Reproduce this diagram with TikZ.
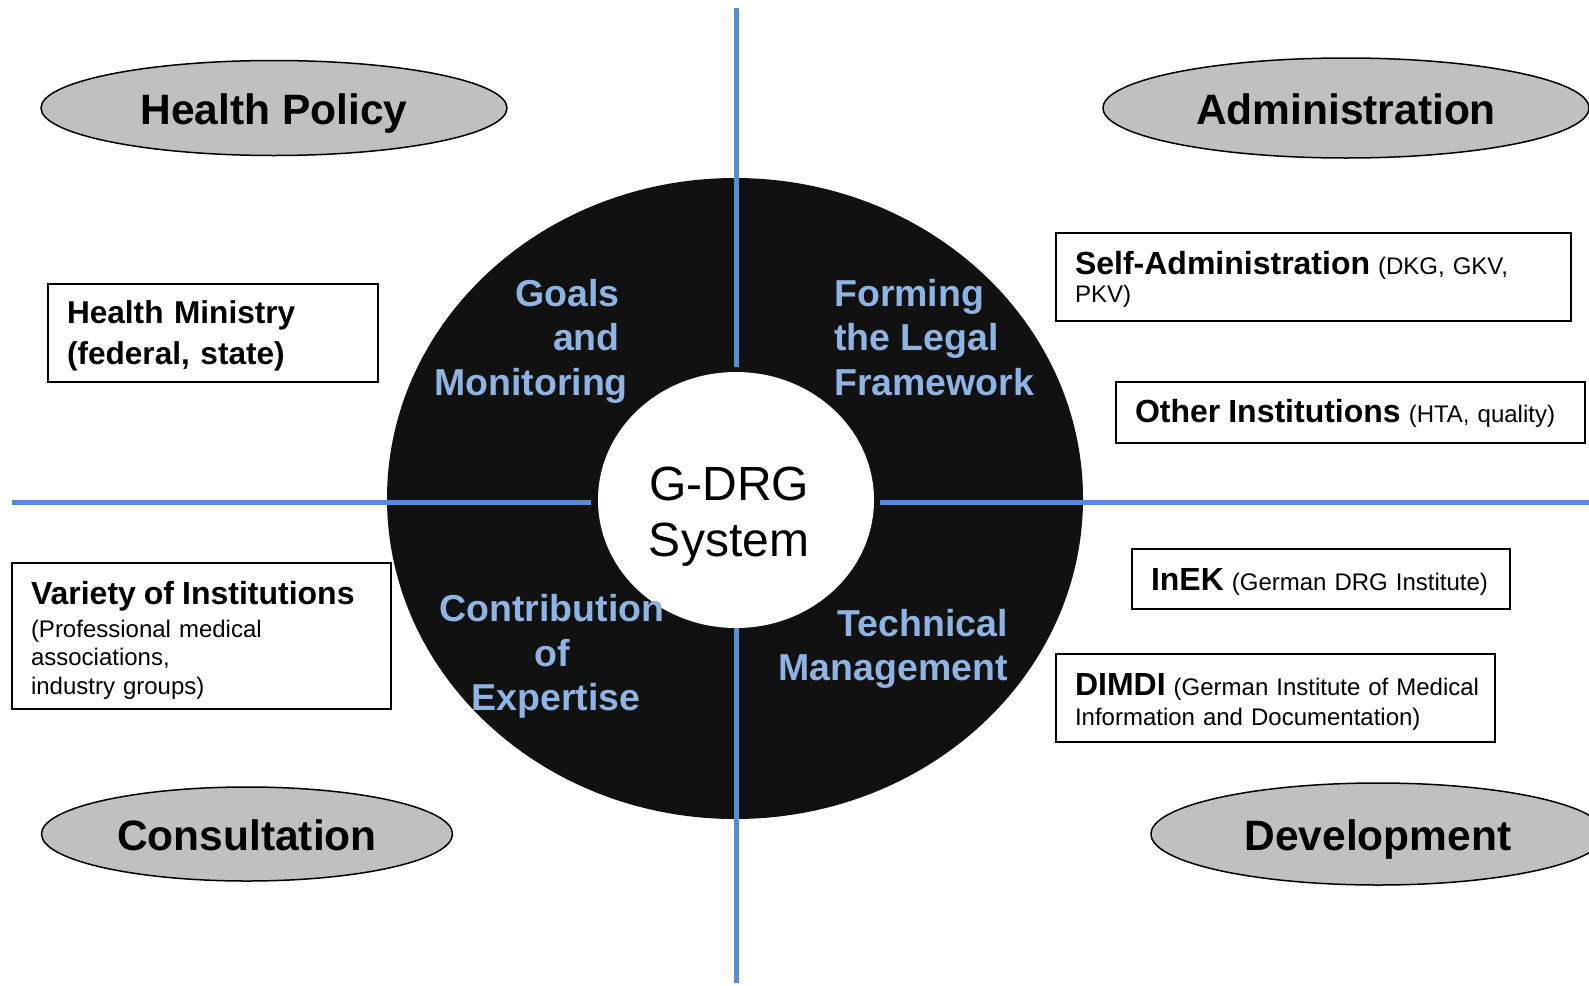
\documentclass[tikz,border=0pt]{standalone}
\usepackage{fontspec}
\setmainfont{Liberation Sans}
\usepackage{tikz}
\usetikzlibrary{shapes.geometric}
\definecolor{axisblue}{RGB}{85,142,213}
\definecolor{quadblue}{RGB}{141,180,226}
\definecolor{fieldgray}{RGB}{192,192,192}
\definecolor{ringblack}{RGB}{17,17,17}

\tikzset{
    field/.style={ellipse,draw,line width=1.5pt,fill=fieldgray,inner sep=0pt,
        text height=33pt,text depth=0pt,font=\fontsize{42.5}{48}\selectfont\bfseries},
    actor/.style={draw,line width=2pt,fill=white,anchor=north west,align=left,
        inner xsep=19pt,inner ysep=0pt,font=\fontsize{24}{28.5}\selectfont},
    sector/.style={inner sep=0pt,text=quadblue,font=\fontsize{37.5}{44.5}\selectfont\bfseries},
    axis/.style={axisblue,line width=5pt},
}
\newcommand{\bigb}[1]{{\fontsize{32}{28}\selectfont\bfseries #1}}
\newcommand{\topstrut}[1]{\rule{0pt}{#1}}

\begin{document}
\begin{tikzpicture}[x=1pt,y=-1pt]
    \clip (0,0) rectangle (1589,985);
    % ring with the system in its middle
    \node[ellipse,fill=ringblack,minimum width=696,minimum height=641,inner sep=0pt] (ring) at (735,498.5) {};
    \node[ellipse,fill=white,minimum width=276,minimum height=256,inner sep=0pt] (hub) at (736,500) {};
    \draw[axis] (736.5,8) -- (736.5,367);
    \draw[axis] (736.5,628) -- (736.5,983);
    \draw[axis] (12,502.5) -- (591,502.5);
    \draw[axis] (880,502.5) -- (1589,502.5);
    \node[anchor=north,align=center,inner sep=0pt,font=\fontsize{48}{56}\selectfont] (drg) at (729,467) {G-DRG\\System};
    % the four tasks
    \node[sector,align=right,anchor=north east] (goals) at (628,279) {Goals\rule{8pt}{0pt}\\and\rule{8pt}{0pt}\\Monitoring};
    \node[sector,align=left,anchor=north west] (legal) at (834,279) {Forming\\the Legal\\Framework};
    \node[sector,align=center,anchor=north] (expert) at (552,594.5) {Contribution\\of\\\rule{8pt}{0pt}Expertise};
    \node[sector,align=right,anchor=north east] (tech) at (1008,609) {Technical\\Management};
    % fields
    \node[field,minimum width=466,minimum height=95] (policy) at (274,108) {Health Policy};
    \node[field,minimum width=486,minimum height=100] (admin) at (1346,108) {Administration};
    \node[field,minimum width=411,minimum height=94] (consult) at (247,834) {Consultation};
    \node[field,minimum width=454,minimum height=102] (develop) at (1378,834) {Development};
    % actors
    \node[actor,minimum width=330,minimum height=98,text width=292,font=\fontsize{31.6}{41}\selectfont\bfseries] (ministry) at (47,283) {\strut Health Ministry\\(federal, state)};
    \node[actor,minimum width=379,minimum height=146,text width=341] (variety) at (11,562) {\topstrut{31.5pt}\bigb{Variety of Institutions}\\[4pt](Professional medical\\associations,\\industry groups)};
    \node[actor,minimum width=515,minimum height=88,text width=477,font=\fontsize{24}{28}\selectfont] (self) at (1055,232) {\topstrut{28.5pt}\bigb{Self-Administration} (DKG, GKV,\\PKV)};
    \node[actor,minimum width=469,minimum height=61,text width=431] (other) at (1115,381) {\topstrut{25.5pt}\bigb{Other Institutions} (HTA, quality)};
    \node[actor,minimum width=378,minimum height=60,text width=340] (inek) at (1131,548) {\topstrut{27.5pt}\bigb{InEK} (German DRG Institute)};
    \node[actor,minimum width=439,minimum height=88,text width=401,font=\fontsize{24}{29.5}\selectfont] (dimdi) at (1055,653) {\mbox{\topstrut{29.5pt}\bigb{DIMDI} (German Institute of Medical}\\Information and Documentation)};
\end{tikzpicture}
\end{document}
